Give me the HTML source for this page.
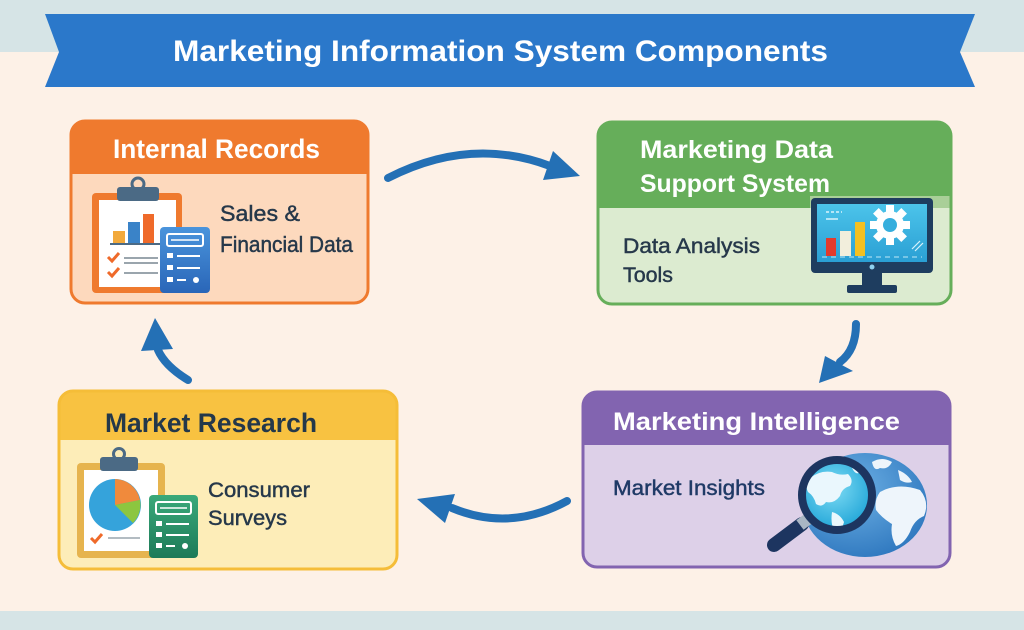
<!DOCTYPE html>
<html><head><meta charset="utf-8"><style>
html,body{margin:0;padding:0;width:1024px;height:630px;overflow:hidden;background:#fdf1e7}
svg{display:block}
text{font-family:"Liberation Sans",sans-serif}
.bt{stroke-width:0.45;paint-order:stroke}
</style></head><body>
<svg width="1024" height="630" viewBox="0 0 1024 630" xmlns="http://www.w3.org/2000/svg">
<defs>
<linearGradient id="bdoc" x1="0" y1="0" x2="0" y2="1"><stop offset="0" stop-color="#4a94dc"/><stop offset="1" stop-color="#2a66b8"/></linearGradient>
<linearGradient id="gdoc" x1="0" y1="0" x2="0" y2="1"><stop offset="0" stop-color="#3aa97a"/><stop offset="1" stop-color="#1d7a58"/></linearGradient>
<linearGradient id="scr" x1="0" y1="0" x2="0" y2="1"><stop offset="0" stop-color="#4cc4ea"/><stop offset="1" stop-color="#2a9fd4"/></linearGradient>
<radialGradient id="glb" cx="0.4" cy="0.35" r="0.7"><stop offset="0" stop-color="#6db0e4"/><stop offset="1" stop-color="#2f78bf"/></radialGradient>
<radialGradient id="lens" cx="0.45" cy="0.4" r="0.6"><stop offset="0" stop-color="#7fdcf4"/><stop offset="1" stop-color="#22a6d8"/></radialGradient>
<clipPath id="c1"><rect x="71" y="121" width="297" height="182" rx="14"/></clipPath>
<clipPath id="c2"><rect x="598" y="122" width="353" height="182" rx="14"/></clipPath>
<clipPath id="c3"><rect x="59" y="391" width="338" height="178" rx="14"/></clipPath>
<clipPath id="c4"><rect x="583" y="392" width="367" height="175" rx="14"/></clipPath>
<clipPath id="gclip"><ellipse cx="865" cy="505" rx="62" ry="52"/></clipPath>
<clipPath id="lclip"><circle cx="837" cy="495" r="35"/></clipPath>
</defs>

<!-- background -->
<rect x="0" y="0" width="1024" height="630" fill="#fdf1e7"/>
<rect x="0" y="0" width="1024" height="52" fill="#d6e4e6"/>
<rect x="0" y="611" width="1024" height="19" fill="#d6e4e6"/>

<!-- banner -->
<polygon points="45,14 975,14 960,52 975,87 45,87 59,52" fill="#2b78ca"/>
<text x="173" y="61" font-size="30" font-weight="bold" fill="#ffffff" textLength="655" lengthAdjust="spacingAndGlyphs">Marketing Information System Components</text>

<!-- Box 1: Internal Records -->
<g clip-path="url(#c1)">
<rect x="71" y="121" width="297" height="182" fill="#fdd9bd"/>
<rect x="71" y="121" width="297" height="52" fill="#ef7a2e"/>
</g>
<rect x="71" y="121" width="297" height="182" rx="14" fill="none" stroke="#ef7a2e" stroke-width="3"/>
<line x1="71" y1="173" x2="368" y2="173" stroke="#ef7a2e" stroke-width="2"/>
<text x="113" y="158" font-size="27" font-weight="bold" fill="#ffffff" textLength="207" lengthAdjust="spacingAndGlyphs">Internal Records</text>
<text class="bt" x="220" y="221" font-size="22" fill="#26384a" stroke="#26384a" textLength="80" lengthAdjust="spacingAndGlyphs">Sales &amp;</text>
<text class="bt" x="220" y="252" font-size="22" fill="#26384a" stroke="#26384a" textLength="133" lengthAdjust="spacingAndGlyphs">Financial Data</text>
<!-- clipboard -->
<rect x="92" y="193" width="90" height="100" rx="4" fill="#ef7a2e"/>
<rect x="99" y="200" width="77" height="87" fill="#ffffff"/>
<circle cx="138" cy="184" r="6" fill="none" stroke="#4b6a85" stroke-width="3"/>
<rect x="117" y="187" width="42" height="14" rx="3" fill="#4b6a85"/>
<rect x="113" y="231" width="12" height="12" fill="#f2a93b"/>
<rect x="128" y="222" width="12" height="21" fill="#3a83c8"/>
<rect x="143" y="214" width="11" height="29" fill="#ef6a2a"/>
<line x1="110" y1="244" x2="160" y2="244" stroke="#4b6a85" stroke-width="2"/>
<path d="M108,257 l4,4 l7,-8" fill="none" stroke="#ef6a2a" stroke-width="3"/>
<path d="M108,272 l4,4 l7,-8" fill="none" stroke="#ef6a2a" stroke-width="3"/>
<line x1="124" y1="258" x2="158" y2="258" stroke="#9aa5ad" stroke-width="2"/>
<line x1="124" y1="263" x2="158" y2="263" stroke="#9aa5ad" stroke-width="2"/>
<line x1="124" y1="273" x2="158" y2="273" stroke="#9aa5ad" stroke-width="2"/>
<!-- blue doc -->
<rect x="160" y="227" width="50" height="66" rx="4" fill="url(#bdoc)"/>
<rect x="167" y="234" width="36" height="12" rx="2" fill="none" stroke="#ffffff" stroke-width="2"/>
<line x1="171" y1="240" x2="199" y2="240" stroke="#ffffff" stroke-width="1.5"/>
<rect x="167" y="253" width="6" height="5" fill="#ffffff"/><line x1="177" y1="256" x2="200" y2="256" stroke="#ffffff" stroke-width="2"/>
<rect x="167" y="265" width="6" height="5" fill="#ffffff"/><line x1="177" y1="268" x2="200" y2="268" stroke="#ffffff" stroke-width="2"/>
<rect x="167" y="277" width="6" height="5" fill="#ffffff"/><line x1="177" y1="280" x2="186" y2="280" stroke="#ffffff" stroke-width="2"/><circle cx="196" cy="280" r="3" fill="#ffffff"/>

<!-- Box 2: Marketing Data Support System -->
<g clip-path="url(#c2)">
<rect x="598" y="122" width="353" height="182" fill="#dcebd0"/>
<rect x="598" y="122" width="353" height="86" fill="#66ae5a"/>
<rect x="810" y="196" width="141" height="12" fill="#a9cf98"/>
</g>
<rect x="598" y="122" width="353" height="182" rx="14" fill="none" stroke="#66ae5a" stroke-width="3"/>
<text x="640" y="158" font-size="25" font-weight="bold" fill="#ffffff" textLength="193" lengthAdjust="spacingAndGlyphs">Marketing Data</text>
<text x="640" y="192" font-size="25" font-weight="bold" fill="#ffffff" textLength="190" lengthAdjust="spacingAndGlyphs">Support System</text>
<text class="bt" x="623" y="253" font-size="21" fill="#26384a" stroke="#26384a" textLength="137" lengthAdjust="spacingAndGlyphs">Data Analysis</text>
<text class="bt" x="623" y="282" font-size="21" fill="#26384a" stroke="#26384a" textLength="50" lengthAdjust="spacingAndGlyphs">Tools</text>
<!-- monitor -->
<rect x="862" y="270" width="20" height="17" fill="#1e3d5f"/>
<rect x="847" y="285" width="50" height="8" rx="2" fill="#1e3d5f"/>
<rect x="811" y="198" width="122" height="75" rx="4" fill="#1e3d5f"/>
<rect x="817" y="204" width="110" height="58" fill="url(#scr)"/>
<circle cx="872" cy="267" r="2.5" fill="#8fd0ee"/>
<line x1="826" y1="212" x2="842" y2="212" stroke="#d9f3fb" stroke-width="1.5" stroke-dasharray="3,2"/>
<line x1="826" y1="219" x2="838" y2="219" stroke="#d9f3fb" stroke-width="1.5"/>
<rect x="826" y="238" width="10" height="18" fill="#e23b2d"/>
<rect x="840" y="231" width="11" height="25" fill="#f2eedc"/>
<rect x="855" y="222" width="10" height="34" fill="#f5c020"/>
<line x1="822" y1="257" x2="922" y2="257" stroke="#bfe8f7" stroke-width="1" stroke-dasharray="5,4"/>
<g transform="translate(890,225)" fill="#ffffff">
<circle r="14"/>
<g>
<rect x="-4" y="-20" width="8" height="9"/>
<rect x="-4" y="11" width="8" height="9"/>
<rect x="-20" y="-4" width="9" height="8"/>
<rect x="11" y="-4" width="9" height="8"/>
<rect x="-4" y="-20" width="8" height="9" transform="rotate(45)"/>
<rect x="-4" y="11" width="8" height="9" transform="rotate(45)"/>
<rect x="-20" y="-4" width="9" height="8" transform="rotate(45)"/>
<rect x="11" y="-4" width="9" height="8" transform="rotate(45)"/>
</g>
<circle r="7" fill="#35aedd"/>
</g>
<line x1="912" y1="249" x2="920" y2="241" stroke="#d9f3fb" stroke-width="1.2"/>
<line x1="915" y1="251" x2="923" y2="243" stroke="#d9f3fb" stroke-width="1.2"/>

<!-- Box 3: Market Research -->
<g clip-path="url(#c3)">
<rect x="59" y="391" width="338" height="178" fill="#fdedb8"/>
<rect x="59" y="391" width="338" height="49" fill="#f8c241"/>
</g>
<rect x="59" y="391" width="338" height="178" rx="14" fill="none" stroke="#f5bd38" stroke-width="3"/>
<text x="105" y="432" font-size="27" font-weight="bold" fill="#24384a" textLength="212" lengthAdjust="spacingAndGlyphs">Market Research</text>
<text class="bt" x="208" y="497" font-size="21" fill="#26384a" stroke="#26384a" textLength="102" lengthAdjust="spacingAndGlyphs">Consumer</text>
<text class="bt" x="208" y="525" font-size="21" fill="#26384a" stroke="#26384a" textLength="79" lengthAdjust="spacingAndGlyphs">Surveys</text>
<!-- clipboard -->
<rect x="77" y="463" width="88" height="95" rx="4" fill="#e6b44e"/>
<rect x="84" y="470" width="74" height="81" fill="#ffffff"/>
<circle cx="119" cy="454" r="5.5" fill="none" stroke="#4b6a85" stroke-width="3"/>
<rect x="100" y="457" width="38" height="14" rx="3" fill="#4b6a85"/>
<circle cx="115" cy="505" r="26" fill="#35a3db"/>
<path d="M115,505 L115,479 A26,26 0 0 1 140,500 Z" fill="#f08a3c"/>
<path d="M115,505 L140,500 A26,26 0 0 1 133,523 Z" fill="#8cc63f"/>
<path d="M91,538 l4,4 l7,-8" fill="none" stroke="#ef6a2a" stroke-width="3"/>
<line x1="108" y1="538" x2="140" y2="538" stroke="#9aa5ad" stroke-width="1.5"/>
<!-- green doc -->
<rect x="149" y="495" width="49" height="63" rx="4" fill="url(#gdoc)"/>
<rect x="156" y="502" width="35" height="12" rx="2" fill="none" stroke="#ffffff" stroke-width="2"/>
<line x1="160" y1="508" x2="187" y2="508" stroke="#ffffff" stroke-width="1.5"/>
<rect x="156" y="521" width="6" height="5" fill="#ffffff"/><line x1="166" y1="524" x2="189" y2="524" stroke="#ffffff" stroke-width="2"/>
<rect x="156" y="532" width="6" height="5" fill="#ffffff"/><line x1="166" y1="535" x2="189" y2="535" stroke="#ffffff" stroke-width="2"/>
<rect x="156" y="543" width="6" height="5" fill="#ffffff"/><line x1="166" y1="546" x2="175" y2="546" stroke="#ffffff" stroke-width="2"/><circle cx="185" cy="546" r="3" fill="#ffffff"/>

<!-- Box 4: Marketing Intelligence -->
<g clip-path="url(#c4)">
<rect x="583" y="392" width="367" height="175" fill="#ddd0e8"/>
<rect x="583" y="392" width="367" height="53" fill="#8264b0"/>
</g>
<rect x="583" y="392" width="367" height="175" rx="14" fill="none" stroke="#8264b0" stroke-width="3"/>
<text x="613" y="430" font-size="25" font-weight="bold" fill="#ffffff" textLength="287" lengthAdjust="spacingAndGlyphs">Marketing Intelligence</text>
<text class="bt" x="613" y="495" font-size="21" fill="#1f3a66" stroke="#1f3a66" textLength="152" lengthAdjust="spacingAndGlyphs">Market Insights</text>
<!-- globe -->
<ellipse cx="865" cy="505" rx="62" ry="52" fill="url(#glb)"/>
<g clip-path="url(#gclip)" fill="#eef5fb">
<path d="M872,462 q10,-6 20,0 q-4,8 -12,6 q-6,4 -8,-6 Z"/>
<path d="M880,492 q18,-10 40,-2 q10,12 4,26 q-10,4 -14,16 q-6,12 -14,14 q-6,-10 -4,-22 q-10,-6 -16,-14 q-2,-10 4,-18 Z"/>
<path d="M898,470 q10,4 14,12 q-6,2 -12,-2 Z"/>
</g>
<!-- magnifier -->
<line x1="774" y1="545" x2="802" y2="524" stroke="#1d3560" stroke-width="14" stroke-linecap="round"/>
<line x1="800" y1="525" x2="808" y2="519" stroke="#a9b6c4" stroke-width="12"/>
<circle cx="837" cy="495" r="35" fill="url(#lens)"/>
<g clip-path="url(#lclip)" fill="#eaf7fd">
<path d="M810,478 q10,-8 22,-6 q8,4 16,2 q6,6 2,12 q-8,2 -10,10 q-6,8 -14,6 q-4,6 -10,2 q-2,-8 -8,-12 q-4,-8 2,-14 Z"/>
<path d="M832,512 q8,2 12,10 q-2,8 -8,12 q-6,-8 -4,-22 Z"/>
<path d="M852,468 q6,-2 8,4 q-4,4 -8,-4 Z"/>
</g>
<circle cx="837" cy="495" r="35" fill="none" stroke="#1d3560" stroke-width="8"/>

<!-- arrows -->
<g stroke="#2470b5" stroke-width="8" stroke-linecap="round" fill="none">
<path d="M388,178 Q470,136 550,166"/>
<path d="M856,324 Q856,350 840,362"/>
<path d="M567,501 Q510,532 452,508"/>
<path d="M188,380 Q165,366 158,350"/>
</g>
<g fill="#2470b5">
<polygon points="580,176 553,151 543,180"/>
<polygon points="819,383 825,356 853,371"/>
<polygon points="417,499 455,494 445,523"/>
<polygon points="155,318 141,351 173,349"/>
</g>
</svg>
</body></html>
